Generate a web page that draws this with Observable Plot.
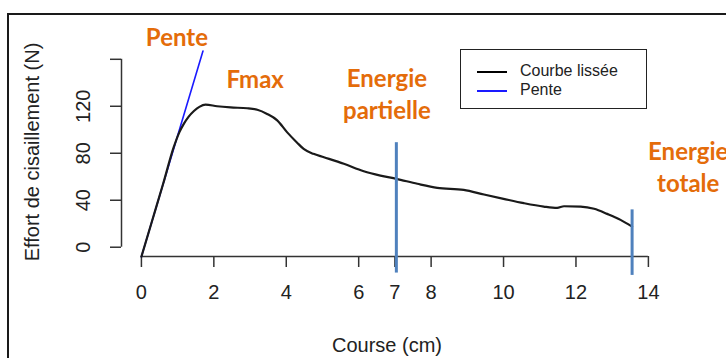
<!DOCTYPE html>
<html>
<head>
<meta charset="utf-8">
<script src="https://cdn.jsdelivr.net/npm/d3@7"></script>
<script src="https://cdn.jsdelivr.net/npm/@observablehq/plot@0.6"></script>
<style>
  html, body { margin: 0; padding: 0; background: #fff; }
  #wrap { position: relative; width: 726px; height: 358px; overflow: hidden; font-family: "Liberation Sans", Arial, sans-serif; }
  #frame { position: absolute; left: 7px; top: 13px; width: 800px; height: 400px; border-left: 2px solid #1a1a1a; border-top: 2px solid #1a1a1a; pointer-events: none; }
  #legend { position: absolute; left: 460px; top: 49px; width: 187px; height: 60px; border: 1.5px solid #222; background: #fff; box-sizing: border-box; }
  .lg-row { position: absolute; left: 0; height: 20px; display: flex; align-items: center; font-size: 16px; color: #222; }
  .lg-line { position: absolute; left: 16px; width: 30px; height: 0; border-top: 2px solid #000; }
  .lg-text { position: absolute; left: 59px; white-space: nowrap; }
</style>
</head>
<body>
<div id="wrap">
  <div id="chart"></div>
  <div id="frame"></div>
  <div id="legend"></div>
</div>
<script>
// ---- data ----
const courseX = [0, 0.3, 0.6, 0.89, 1.05, 1.17, 1.3, 1.45, 1.6, 1.77, 2.09, 2.46, 2.92, 3.2, 3.47, 3.75, 4.02, 4.3, 4.48, 4.75, 5.04, 5.59, 6.14, 6.6, 7.04, 7.62, 8.17, 8.9, 9.46, 10.0, 10.56, 11.11, 11.48, 11.67, 12.13, 12.5, 12.86, 13.23, 13.55];
const effortY = [-8, 23, 54, 85, 98, 105, 111, 116, 119.5, 121.4, 120, 119, 118.3, 117, 113.5, 108, 98, 89, 83.7, 79.5, 76.6, 71, 64.7, 61, 58.2, 54, 50.6, 48.8, 44.9, 41.2, 37.5, 34.6, 33.5, 34.9, 34.6, 32.7, 28.4, 23.3, 17.5];

const penteX = [0, 1.70];
const penteY = [-8, 167];

const energieX = [7.04, 13.55];
const energieTop = [89, 31.8];
const energieBottom = [-22, -24];

const xTicks = [0, 2, 4, 6, 7, 8, 10, 12, 14];
const yTicks = [0, 40, 80, 120, 160];
const yTickLabels = [0, 40, 80, 120];

const annotText = ["Pente", "Fmax", "Energie\npartielle", "Energie\ntotale"];
const annotX = [0.98, 3.14, 6.78, 15.1];
const annotY = [180.2, 144.6, 131.7, 69.6];

const legendLabels = ["Courbe lissée", "Pente"];
const legendColors = ["#000000", "#1a1aff"];

const xTitle = "Course (cm)";
const yTitle = "Effort de cisaillement (N)";

// ---- build ----
const xMin = -0.55, xMax = 14.5, yMin = -7.9, yMax = 176;
const curve = courseX.map((x, i) => ({x, y: effortY[i]}));
const pente = penteX.map((x, i) => ({x, y: penteY[i]}));
const energie = energieX.map((x, i) => ({x, y1: energieBottom[i], y2: energieTop[i]}));
const annots = annotText.map((t, i) => ({t, x: annotX[i], y: annotY[i]}));

const font = "Liberation Sans, Arial, sans-serif";
const chart = Plot.plot({
  width: 726,
  height: 358,
  marginLeft: 121,
  marginRight: 60,
  marginTop: 40,
  marginBottom: 102,
  style: {fontFamily: font, background: "transparent", color: "#222"},
  x: {domain: [xMin, xMax], axis: null},
  y: {domain: [yMin, yMax], axis: null},
  marks: [
    // axes lines
    Plot.ruleY([yMin], {x1: 0, x2: 14, stroke: "#333", strokeWidth: 1.5}),
    Plot.ruleX([xMin], {y1: 0, y2: 160, stroke: "#333", strokeWidth: 1.5}),
    Plot.axisX(xTicks, {tickSize: 11, tickPadding: 17, fontSize: 20, stroke: "#333", strokeWidth: 1.5, fill: "#222", label: null, tickFormat: d => String(d)}),
    Plot.axisY(yTicks, {tickSize: 11, stroke: "#333", strokeWidth: 1.5, label: null, tickFormat: () => ""}),
    Plot.text(yTickLabels, {x: xMin, y: d => d, text: d => String(d), dx: -38, rotate: -90, fontSize: 20, fill: "#222", textAnchor: "middle", lineAnchor: "middle"}),
    Plot.text([xTitle], {frameAnchor: "bottom", text: d => d, dx: -7, dy: 89, fontSize: 20, fill: "#222", textAnchor: "middle", lineAnchor: "middle"}),
    Plot.text([yTitle], {frameAnchor: "left", text: d => d, dx: -89, dy: 3.5, rotate: -90, fontSize: 20, fill: "#222", textAnchor: "middle", lineAnchor: "middle"}),
    // data
    Plot.line(pente, {x: "x", y: "y", stroke: legendColors[1], strokeWidth: 1.6}),
    Plot.line(curve, {x: "x", y: "y", stroke: "#1a1a1a", strokeWidth: 2.2, curve: "monotone-x"}),
    Plot.ruleX(energie, {x: "x", y1: "y1", y2: "y2", stroke: "#4f81bd", strokeWidth: 3}),
    Plot.text(annots, {x: "x", y: "y", text: "t", fill: "#e46c0a", fontSize: 24, fontWeight: "bold", fontFamily: "Lato, sans-serif", lineHeight: 1.35, textAnchor: "middle", lineAnchor: "middle"})
  ]
});
document.getElementById("chart").appendChild(chart);

// legend
const lg = document.getElementById("legend");
legendLabels.forEach((lab, i) => {
  const row = document.createElement("div");
  row.className = "lg-row";
  row.style.top = (11 + i * 19) + "px";
  row.style.width = "100%";
  const ln = document.createElement("div");
  ln.className = "lg-line";
  ln.style.borderTopColor = legendColors[i];
  ln.style.top = "10px";
  const tx = document.createElement("div");
  tx.className = "lg-text";
  tx.textContent = lab;
  row.appendChild(ln);
  row.appendChild(tx);
  lg.appendChild(row);
});
</script>
</body>
</html>
